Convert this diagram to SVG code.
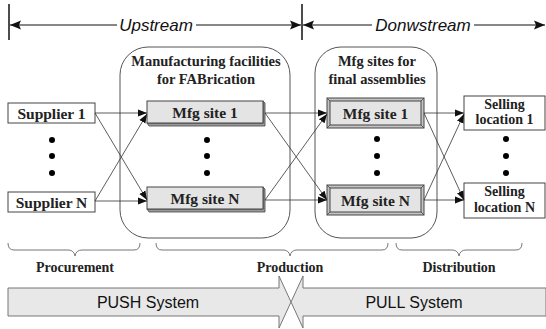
<svg xmlns="http://www.w3.org/2000/svg" width="546" height="329" viewBox="0 0 546 329">
  <defs>
    <marker id="ah" markerUnits="userSpaceOnUse" markerWidth="10" markerHeight="10" viewBox="0 0 10 10" refX="9" refY="5" orient="auto">
      <path d="M0,1.5 L9,5 L0,8.5 Z" fill="#111"/>
    </marker>
    <marker id="ahBig" markerUnits="userSpaceOnUse" markerWidth="12" markerHeight="12" viewBox="0 0 12 12" refX="11" refY="6" orient="auto">
      <path d="M0,1.5 L11,6 L0,10.5 L2,6 Z" fill="#111"/>
    </marker>
  </defs>
  <style>
    .box { fill: #fff; stroke: #444; stroke-width: 1; }
    .group { fill: none; stroke: #555; stroke-width: 1; }
    .fab { fill: #e4e4e4; stroke: #444; stroke-width: 1; }
    .fabShadow { fill: #9a9a9a; stroke: #444; stroke-width: 0.8; }
    .bevel { fill: #c4c4c4; stroke: #444; stroke-width: 1; }
    .bevelLine { stroke: #444; stroke-width: 0.8; }
    .lbl { font-family: "Liberation Serif", "Times New Roman", serif; font-weight: bold; font-size: 15.5px; fill: #222; text-anchor: middle; }
    .lbl2 { font-family: "Liberation Serif", "Times New Roman", serif; font-weight: bold; font-size: 14px; fill: #222; text-anchor: middle; }
    .title { font-family: "Liberation Serif", "Times New Roman", serif; font-weight: bold; font-size: 14.5px; fill: #222; text-anchor: middle; }
    .phase { font-family: "Liberation Serif", "Times New Roman", serif; font-weight: bold; font-size: 14px; fill: #222; text-anchor: middle; }
    .stream { font-family: "Liberation Sans", Arial, sans-serif; font-style: italic; font-size: 17px; fill: #111; text-anchor: middle; }
    .sys { font-family: "Liberation Sans", Arial, sans-serif; font-size: 16px; fill: #111; text-anchor: middle; }
    .dot { fill: #000; }
    .conn { stroke: #333; stroke-width: 0.8; fill: none; marker-end: url(#ah); }
    .brace { stroke: #777; stroke-width: 1; fill: none; }
    .sysArrow { fill: #e8e8e8; stroke: #777; stroke-width: 1; }
  </style>

  <!-- upstream / downstream scale -->
  <g id="stream-scale">
    <line x1="9" y1="4" x2="9" y2="40" stroke="#111" stroke-width="1.5"/>
    <line x1="302" y1="4" x2="302" y2="40" stroke="#111" stroke-width="1.5"/>
    <line x1="117" y1="25" x2="10" y2="25" stroke="#111" stroke-width="1.2" marker-end="url(#ahBig)"/>
    <line x1="196" y1="25" x2="301" y2="25" stroke="#111" stroke-width="1.2" marker-end="url(#ahBig)"/>
    <line x1="372" y1="25" x2="303" y2="25" stroke="#111" stroke-width="1.2" marker-end="url(#ahBig)"/>
    <line x1="474" y1="25" x2="545" y2="25" stroke="#111" stroke-width="1.2" marker-end="url(#ahBig)"/>
    <text class="stream" x="156" y="31">Upstream</text>
    <text class="stream" x="423" y="31">Donwstream</text>
  </g>

  <!-- facility groupings -->
  <g id="fabrication-group">
    <rect class="group" x="120" y="47" width="170" height="191" rx="28" ry="28"/>
    <text class="title" x="206" y="66">Manufacturing facilities</text>
    <text class="title" x="206" y="84">for FABrication</text>
  </g>
  <g id="assembly-group">
    <rect class="group" x="315" y="47" width="122" height="191" rx="26" ry="26"/>
    <text class="title" x="377" y="66">Mfg sites for</text>
    <text class="title" x="377" y="84">final assemblies</text>
  </g>

  <!-- suppliers -->
  <g id="supplier-1">
    <rect class="box" x="8" y="103" width="87" height="20"/>
    <text class="lbl" x="51.5" y="118.5">Supplier 1</text>
  </g>
  <g id="supplier-n">
    <rect class="box" x="8" y="192" width="87" height="20"/>
    <text class="lbl" x="51.5" y="207.5">Supplier N</text>
  </g>
  <g id="supplier-dots">
    <circle class="dot" cx="52" cy="140" r="3"/>
    <circle class="dot" cx="52" cy="156" r="3"/>
    <circle class="dot" cx="52" cy="173" r="3"/>
  </g>

  <!-- fabrication sites -->
  <g id="fab-site-1">
    <path class="fabShadow" d="M147,123 L149,126 L265,126 L265,103 L263,101 L263,123 Z"/>
    <rect class="fab" x="147" y="101" width="116" height="22"/>
    <text class="lbl" x="205" y="117.5">Mfg site 1</text>
  </g>
  <g id="fab-site-n">
    <path class="fabShadow" d="M147,209 L149,212 L265,212 L265,189 L263,187 L263,209 Z"/>
    <rect class="fab" x="147" y="187" width="116" height="22"/>
    <text class="lbl" x="205" y="203.5">Mfg site N</text>
  </g>
  <g id="fab-dots">
    <circle class="dot" cx="207" cy="140" r="3"/>
    <circle class="dot" cx="207" cy="156" r="3"/>
    <circle class="dot" cx="207" cy="173" r="3"/>
  </g>

  <!-- final assembly sites -->
  <g id="asm-site-1">
    <rect class="bevel" x="327" y="98" width="97" height="30"/>
    <rect class="fab" x="330" y="101" width="91" height="24"/>
    <line class="bevelLine" x1="327" y1="98" x2="330" y2="101"/>
    <line class="bevelLine" x1="424" y1="98" x2="421" y2="101"/>
    <line class="bevelLine" x1="327" y1="128" x2="330" y2="125"/>
    <line class="bevelLine" x1="424" y1="128" x2="421" y2="125"/>
    <text class="lbl" x="375.5" y="118.5">Mfg site 1</text>
  </g>
  <g id="asm-site-n">
    <rect class="bevel" x="327" y="185" width="97" height="30"/>
    <rect class="fab" x="330" y="188" width="91" height="24"/>
    <line class="bevelLine" x1="327" y1="185" x2="330" y2="188"/>
    <line class="bevelLine" x1="424" y1="185" x2="421" y2="188"/>
    <line class="bevelLine" x1="327" y1="215" x2="330" y2="212"/>
    <line class="bevelLine" x1="424" y1="215" x2="421" y2="212"/>
    <text class="lbl" x="375.5" y="205.5">Mfg site N</text>
  </g>
  <g id="asm-dots">
    <circle class="dot" cx="377" cy="139" r="3"/>
    <circle class="dot" cx="377" cy="156" r="3"/>
    <circle class="dot" cx="377" cy="173" r="3"/>
  </g>

  <!-- selling locations -->
  <g id="selling-1">
    <rect class="box" x="464" y="96" width="81" height="34"/>
    <text class="lbl2" x="504.5" y="108.5">Selling</text>
    <text class="lbl2" x="504.5" y="124">location 1</text>
  </g>
  <g id="selling-n">
    <rect class="box" x="464" y="183" width="81" height="35"/>
    <text class="lbl2" x="504.5" y="196">Selling</text>
    <text class="lbl2" x="504.5" y="211.5">location N</text>
  </g>
  <g id="selling-dots">
    <circle class="dot" cx="506" cy="139" r="3"/>
    <circle class="dot" cx="506" cy="156" r="3"/>
    <circle class="dot" cx="506" cy="173" r="3"/>
  </g>

  <!-- material flow -->
  <g id="connectors">
    <line class="conn" x1="95" y1="113" x2="147" y2="113"/>
    <line class="conn" x1="95" y1="113" x2="147" y2="200"/>
    <line class="conn" x1="95" y1="201" x2="147" y2="114"/>
    <line class="conn" x1="95" y1="201" x2="147" y2="201"/>

    <line class="conn" x1="265" y1="113" x2="327" y2="113"/>
    <line class="conn" x1="265" y1="113" x2="327" y2="200"/>
    <line class="conn" x1="265" y1="200" x2="327" y2="114"/>
    <line class="conn" x1="265" y1="200" x2="327" y2="200"/>

    <line class="conn" x1="424" y1="113" x2="464" y2="113"/>
    <line class="conn" x1="424" y1="113" x2="464" y2="200"/>
    <line class="conn" x1="424" y1="200" x2="464" y2="114"/>
    <line class="conn" x1="424" y1="200" x2="464" y2="200"/>
  </g>

  <!-- phase braces -->
  <g id="phases">
    <path class="brace" d="M8,243 Q8,250 14,250 L68,250 Q74,250 75,256 Q76,250 82,250 L134,250 Q140,250 140,243"/>
    <path class="brace" d="M156,243 Q156,250 162,250 L283,250 Q289,250 290,256 Q291,250 297,250 L382,250 Q388,250 388,243"/>
    <path class="brace" d="M396,243 Q396,250 402,250 L452,250 Q458,250 459,256 Q460,250 466,250 L516,250 Q522,250 522,243"/>
    <text class="phase" x="75" y="272">Procurement</text>
    <text class="phase" x="290" y="272">Production</text>
    <text class="phase" x="459" y="272">Distribution</text>
  </g>

  <!-- push / pull systems -->
  <g id="push-system">
    <path class="sysArrow" d="M8,288 L279,288 L279,276 L291,302 L279,328 L279,316 L8,316 Z"/>
    <text class="sys" x="148" y="308">PUSH System</text>
  </g>
  <g id="pull-system">
    <path class="sysArrow" d="M546,288 L303,288 L303,276 L291,302 L303,328 L303,316 L546,316 Z"/>
    <text class="sys" x="414" y="308">PULL System</text>
  </g>
</svg>
